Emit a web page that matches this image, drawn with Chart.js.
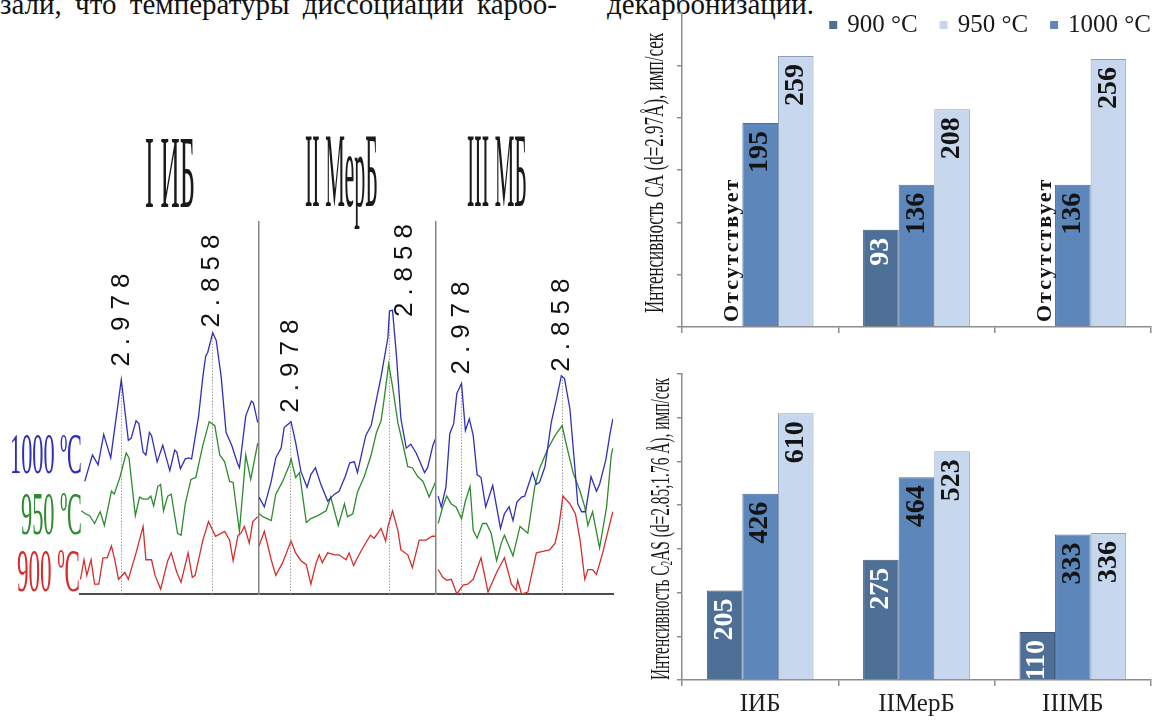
<!DOCTYPE html>
<html>
<head>
<meta charset="utf-8">
<script src="https://cdn.jsdelivr.net/npm/chart.js@4.4.1/dist/chart.umd.min.js"></script>
<style>
  html, body { margin: 0; padding: 0; background: #fff; }
  body { width: 1155px; height: 726px; position: relative; overflow: hidden;
         font-family: "Liberation Serif", "Times New Roman", serif; color: #111; }
  canvas { position: absolute; }
  .txt { position: absolute; white-space: nowrap; line-height: 1; }
  .cond { position: absolute; white-space: nowrap; line-height: 1; transform-origin: 0 0; }
  .cond sub { font-size: 0.6em; vertical-align: -0.15em; line-height: 0; }
</style>
</head>
<body>
<div class="txt" id="headLeft" style="left:0;top:-10px;width:557px;font-size:29px;text-align-last:justify;">зали, что температуры диссоциации карбо-</div>
<div class="txt" id="headRight" style="left:607px;top:-10px;font-size:29px;">декарбонизации.</div>

<canvas id="specI" width="198" height="490" style="left:70px;top:120px;"></canvas>
<canvas id="specII" width="197" height="490" style="left:249px;top:120px;"></canvas>
<canvas id="specIII" width="197" height="490" style="left:426px;top:120px;"></canvas>
<canvas id="barCA" width="535" height="345" style="left:620px;top:0px;"></canvas>
<canvas id="barC2AS" width="535" height="366" style="left:620px;top:360px;"></canvas>

<script>
// ---------- XRD fragments: 2θ (deg) vs intensity (a.u.), Cu Kα ----------
const wavelength = 1.5406;
const peakD = [2.978, 2.858];
const sampleTitles = ['I ИБ', 'II МерБ', 'III МБ'];
const tempLabels = ['1000 ºC', '950 ºC', '900 ºC'];

const scanI = [29.393, 31.924];
const scanII = [29.570, 31.890];
const scanIII = [29.663, 31.932];

const ib1000 = [[29.46,115],[29.57,142],[29.65,132],[29.73,163],[29.83,139],[29.98,219],[30.08,157],[30.12,159],[30.19,177],[30.23,174],[30.29,145],[30.33,142],[30.38,165],[30.41,162],[30.49,135],[30.57,152],[30.67,126],[30.74,147],[30.77,145],[30.82,128],[30.89,138],[30.94,139],[30.98,138],[31.08,182],[31.14,222],[31.18,243],[31.21,247],[31.28,267],[31.33,259],[31.40,222],[31.47,165],[31.55,152],[31.63,134],[31.66,129],[31.75,182],[31.83,197],[31.86,195],[31.92,175]];
const ib950 = [[29.41,85],[29.47,82],[29.53,80],[29.60,72],[29.68,84],[29.74,70],[29.84,105],[29.88,102],[29.96,119],[30.05,144],[30.09,139],[30.18,80],[30.24,99],[30.29,97],[30.36,97],[30.40,100],[30.44,90],[30.50,110],[30.54,112],[30.58,85],[30.64,100],[30.69,102],[30.78,62],[30.83,60],[30.89,92],[30.97,117],[31.04,119],[31.14,152],[31.23,176],[31.31,172],[31.38,142],[31.45,135],[31.52,115],[31.57,114],[31.66,64],[31.72,115],[31.75,142],[31.82,117],[31.92,154]];
const ib900 = [[29.40,15],[29.45,35],[29.49,19],[29.55,35],[29.60,10],[29.66,10],[29.72,37],[29.78,37],[29.84,49],[29.89,34],[29.94,15],[30.03,22],[30.08,15],[30.19,42],[30.29,69],[30.33,35],[30.41,35],[30.46,19],[30.54,5],[30.64,34],[30.69,42],[30.77,22],[30.83,12],[30.93,42],[30.99,17],[31.03,19],[31.14,55],[31.22,74],[31.32,59],[31.45,64],[31.52,55],[31.57,34],[31.64,60],[31.68,62],[31.73,69],[31.80,52],[31.85,74],[31.92,79]];

const merb1000 = [[29.57,99],[29.64,89],[29.73,115],[29.79,139],[29.86,149],[29.90,170],[29.99,176],[30.05,155],[30.12,125],[30.20,109],[30.25,122],[30.31,129],[30.38,112],[30.47,95],[30.56,102],[30.62,105],[30.70,120],[30.76,134],[30.82,135],[30.86,124],[30.97,162],[31.04,172],[31.17,222],[31.26,262],[31.28,289],[31.32,290],[31.37,245],[31.43,179],[31.50,149],[31.56,153],[31.63,144],[31.74,124],[31.78,129],[31.85,152],[31.89,160]];
const merb950 = [[29.57,82],[29.62,79],[29.73,75],[29.79,102],[29.88,115],[29.97,132],[29.99,138],[30.05,119],[30.10,124],[30.19,73],[30.25,77],[30.34,80],[30.45,85],[30.51,99],[30.61,70],[30.69,92],[30.73,79],[30.80,82],[30.86,104],[30.95,120],[31.04,142],[31.11,165],[31.17,177],[31.21,199],[31.27,235],[31.32,212],[31.39,175],[31.45,155],[31.52,130],[31.58,129],[31.65,120],[31.72,115],[31.80,99],[31.87,112],[31.89,115]];
const merb900 = [[29.57,49],[29.64,64],[29.73,35],[29.79,19],[29.88,32],[29.99,54],[30.05,42],[30.12,34],[30.19,30],[30.25,10],[30.32,32],[30.36,40],[30.40,32],[30.47,42],[30.56,40],[30.62,40],[30.71,35],[30.75,42],[30.81,29],[30.86,37],[30.93,47],[31.03,60],[31.08,57],[31.17,67],[31.23,54],[31.26,69],[31.32,85],[31.39,65],[31.43,45],[31.52,40],[31.58,27],[31.67,55],[31.76,55],[31.84,59],[31.89,59]];

const mb1000 = [[29.69,100],[29.73,89],[29.79,109],[29.84,164],[29.89,174],[29.93,205],[29.99,215],[30.04,167],[30.09,179],[30.14,162],[30.19,122],[30.24,119],[30.30,89],[30.39,111],[30.49,67],[30.54,82],[30.60,89],[30.65,75],[30.70,94],[30.76,99],[30.80,100],[30.90,124],[30.95,112],[30.99,114],[31.06,130],[31.14,175],[31.21,200],[31.27,223],[31.31,220],[31.38,189],[31.44,132],[31.48,92],[31.53,84],[31.58,84],[31.65,120],[31.72,105],[31.76,112],[31.84,137],[31.89,162],[31.93,179]];
const mb950 = [[29.69,72],[29.75,89],[29.80,100],[29.86,92],[29.92,89],[29.99,77],[30.04,95],[30.10,110],[30.14,65],[30.19,57],[30.26,72],[30.31,72],[30.37,62],[30.44,34],[30.50,52],[30.54,60],[30.65,39],[30.74,69],[30.84,62],[30.93,110],[30.99,128],[31.10,149],[31.19,162],[31.28,172],[31.33,154],[31.42,124],[31.51,105],[31.57,89],[31.61,70],[31.67,84],[31.76,47],[31.85,89],[31.91,142],[31.93,149]];
const mb900 = [[29.69,25],[29.75,17],[29.80,14],[29.86,15],[29.93,0],[30.01,9],[30.07,10],[30.14,15],[30.24,37],[30.33,2],[30.44,22],[30.54,37],[30.63,10],[30.69,4],[30.71,14],[30.76,0],[30.84,2],[30.95,42],[31.06,44],[31.12,45],[31.19,52],[31.24,70],[31.29,100],[31.38,92],[31.45,82],[31.51,55],[31.57,15],[31.61,25],[31.67,25],[31.72,20],[31.80,42],[31.87,65],[31.93,84]];

// ---------- phase intensities, imp/s ----------
const barCategories = ['IИБ', 'IIМерБ', 'IIIМБ'];
const seriesNames = ['900 °C', '950 °C', '1000 °C'];
const absentText = 'Отсутствует';
const caValues900 = [null, 93, null];
const caValues950 = [259, 208, 256];
const caValues1000 = [195, 136, 136];
const c2asValues900 = [205, 275, 110];
const c2asValues950 = [610, 523, 336];
const c2asValues1000 = [426, 464, 333];
const caAxis = { max: 300, step: 50 };
const c2asAxis = { max: 700, step: 100 };

// ---------- styling ----------
const traceColors = ['#2f2fb8', '#2e8b2e', '#d62d2d'];
const barFill = { t900: '#4f7096', t950: '#c7d8ee', t1000: '#5d87ba' };
const barEdge = { t900: '#3e5877', t950: '#8e9fb5', t1000: '#4a6f9c' };
const axisGrey = '#8c8c8c';

// Tall, narrow serif captions (condensed horizontally)
function placeCondensed(html, o) {
  const el = document.createElement('div');
  el.className = 'cond';
  el.innerHTML = html;
  const F = o.capH / 0.662;
  el.style.fontSize = F + 'px';
  el.style.color = o.color || '#1a1a1a';
  document.body.appendChild(el);
  const natural = el.getBoundingClientRect().width;
  const sx = o.length / natural;
  if (o.rotate) {
    el.style.left = o.cx + 'px';
    el.style.top = o.cy + 'px';
    el.style.transform = `rotate(-90deg) scaleX(${sx}) translate(-50%, -50%)`;
  } else {
    el.style.left = o.x + 'px';
    el.style.top = (o.capTop - 0.1755 * F) + 'px';
    el.style.transform = `scaleX(${sx})`;
  }
}

placeCondensed(sampleTitles[0], { x: 145, capTop: 138, capH: 69, length: 50 });
placeCondensed(sampleTitles[1], { x: 305, capTop: 137, capH: 70, length: 73 });
placeCondensed(sampleTitles[2], { x: 467, capTop: 137, capH: 70, length: 60 });
placeCondensed(tempLabels[0], { x: 10, capTop: 435, capH: 38, length: 72, color: traceColors[0] });
placeCondensed(tempLabels[1], { x: 21, capTop: 495, capH: 40, length: 61, color: traceColors[1] });
placeCondensed(tempLabels[2], { x: 17, capTop: 552, capH: 40, length: 63, color: traceColors[2] });
placeCondensed('Интенсивность СА (d=2.97Å), имп/сек', { rotate: true, cx: 655, cy: 173, capH: 18, length: 280 });
placeCondensed('Интенсивность C<sub>2</sub>AS (d=2.85;1.76 Å), имп/сек', { rotate: true, cx: 661, cy: 529, capH: 18, length: 302 });

// Dotted d-spacing markers with rotated labels above the 1000 °C peaks
const peakMarks = {
  id: 'peakMarks',
  _pos(chart, d) {
    const tt = 2 * Math.asin(wavelength / (2 * d)) * 180 / Math.PI;
    const ref = chart.data.datasets[0].data;
    let best = ref[0];
    ref.forEach(p => { if (Math.abs(p.x - tt) < Math.abs(best.x - tt)) best = p; });
    return { px: chart.scales.x.getPixelForValue(tt), py: chart.scales.y.getPixelForValue(best.y) };
  },
  beforeDatasetsDraw(chart) {
    const { ctx, chartArea } = chart;
    ctx.save();
    ctx.strokeStyle = '#a0a0a0';
    ctx.lineWidth = 1;
    ctx.setLineDash([1.5, 1.5]);
    peakD.forEach(d => {
      const { px, py } = this._pos(chart, d);
      const xx = Math.round(px) + 0.5;
      ctx.beginPath();
      ctx.moveTo(xx, chartArea.bottom);
      ctx.lineTo(xx, py);
      ctx.stroke();
    });
    ctx.restore();
  },
  afterDatasetsDraw(chart, args, opts) {
    const { ctx } = chart;
    peakD.forEach((d, k) => {
      const { px, py } = this._pos(chart, d);
      const off = opts.offsets[k];
      ctx.save();
      ctx.translate(px + off.dx, py - off.gap);
      ctx.rotate(-Math.PI / 2);
      ctx.font = '26px "Liberation Sans", Arial, sans-serif';
      ctx.letterSpacing = '7px';
      ctx.fillStyle = '#111';
      ctx.textAlign = 'left';
      ctx.textBaseline = 'middle';
      ctx.fillText(d.toFixed(3), 0, 0);
      ctx.restore();
    });
  }
};

function spectrum(id, scan, traces, offsets, leftBorder) {
  new Chart(document.getElementById(id), {
    type: 'line',
    data: {
      datasets: traces.map((t, i) => ({
        label: tempLabels[i],
        data: t.map(([x, y]) => ({ x, y })),
        borderColor: traceColors[i],
        borderWidth: 1.3,
        pointRadius: 0,
        tension: 0,
        fill: false
      }))
    },
    options: {
      responsive: false,
      animation: false,
      events: [],
      layout: { padding: { left: 10, right: 10, top: 102, bottom: 8 } },
      plugins: { legend: { display: false }, tooltip: { enabled: false }, peakMarks: { offsets } },
      scales: {
        x: {
          type: 'linear', min: scan[0], max: scan[1],
          ticks: { display: false }, grid: { display: false },
          border: { display: true, color: '#4d4d4d', width: 2 }
        },
        y: {
          min: 0, max: 380, display: leftBorder,
          ticks: { display: false }, grid: { display: false },
          border: { display: true, color: '#858585', width: 1.5 },
          afterFit(scale) { scale.width = 0; }
        }
      }
    },
    plugins: [peakMarks]
  });
}

spectrum('specI', scanI, [ib1000, ib950, ib900], [{ dx: 0, gap: 13 }, { dx: 0, gap: 5 }], false);
spectrum('specII', scanII, [merb1000, merb950, merb900], [{ dx: 0, gap: 9 }, { dx: 16, gap: -6 }], true);
spectrum('specIII', scanIII, [mb1000, mb950, mb900], [{ dx: 1, gap: 9 }, { dx: 0, gap: 4 }], true);

// Rotated values inside bar tops, and a note where a phase is absent
const barValueLabels = {
  id: 'barValueLabels',
  afterDatasetsDraw(chart) {
    const { ctx, chartArea } = chart;
    chart.data.datasets.forEach((ds, i) => {
      const meta = chart.getDatasetMeta(i);
      meta.data.forEach((bar, j) => {
        const v = ds.data[j];
        ctx.save();
        if (v == null) {
          ctx.translate(bar.x + 8, chartArea.bottom - 5);
          ctx.rotate(-Math.PI / 2);
          ctx.font = 'bold 22px "Liberation Serif", serif';
          ctx.letterSpacing = '2px';
          ctx.fillStyle = '#151515';
          ctx.textAlign = 'left';
          ctx.textBaseline = 'middle';
          ctx.fillText(absentText, 0, 0);
        } else {
          ctx.translate(bar.x, bar.y + 8);
          ctx.rotate(-Math.PI / 2);
          ctx.font = 'bold 28px "Liberation Serif", serif';
          ctx.fillStyle = ds.valueColor;
          ctx.textAlign = 'right';
          ctx.textBaseline = 'middle';
          ctx.fillText(String(v), 0, 0);
        }
        ctx.restore();
      });
    });
  }
};

// Series key drawn at the top-right corner of the plot
const cornerLegend = {
  id: 'cornerLegend',
  afterDraw(chart, args, opts) {
    if (!opts.show) return;
    const { ctx, chartArea } = chart;
    ctx.save();
    ctx.font = '25px "Liberation Serif", serif';
    const box = 8, gapText = 10, gapItem = 22;
    const items = chart.data.datasets.map(ds => ({ text: ds.label, color: ds.backgroundColor, w: ctx.measureText(ds.label).width }));
    const total = items.reduce((s, it, k) => s + box + gapText + it.w + (k ? gapItem : 0), 0);
    let x = chartArea.right - total;
    items.forEach(it => {
      ctx.fillStyle = it.color;
      ctx.fillRect(x, opts.y - box / 2, box, box);
      x += box + gapText;
      ctx.fillStyle = '#1a1a1a';
      ctx.textAlign = 'left';
      ctx.textBaseline = 'middle';
      ctx.fillText(it.text, x, opts.y);
      x += it.w + gapItem;
    });
    ctx.restore();
  }
};

function barChart(id, v900, v950, v1000, axis, opts) {
  new Chart(document.getElementById(id), {
    type: 'bar',
    data: {
      labels: barCategories,
      datasets: [
        { label: seriesNames[0], data: v900, backgroundColor: barFill.t900, borderColor: barEdge.t900, borderWidth: 1, order: 0, valueColor: '#ffffff' },
        { label: seriesNames[1], data: v950, backgroundColor: barFill.t950, borderColor: barEdge.t950, borderWidth: 1, order: 2, valueColor: '#141414' },
        { label: seriesNames[2], data: v1000, backgroundColor: barFill.t1000, borderColor: barEdge.t1000, borderWidth: 1, order: 1, valueColor: '#141414' }
      ]
    },
    options: {
      responsive: false,
      animation: false,
      events: [],
      datasets: { bar: { categoryPercentage: 0.683, barPercentage: 1 } },
      layout: { padding: opts.padding },
      plugins: {
        legend: { display: false }, tooltip: { enabled: false },
        cornerLegend: { show: opts.legend, y: 25 }
      },
      scales: {
        x: {
          grid: { offset: true, drawOnChartArea: false, drawTicks: true, tickLength: 6, color: axisGrey, lineWidth: 1.5 },
          border: { color: axisGrey, width: 1.5 },
          ticks: { display: opts.categoryLabels, color: '#1e1e1e', padding: 6,
                   font: { family: '"Liberation Serif", serif', size: 25, lineHeight: 1 } }
        },
        y: {
          min: 0, max: axis.max,
          ticks: { stepSize: axis.step, display: false },
          grid: { drawOnChartArea: false, drawTicks: true, tickLength: 5, color: axisGrey, lineWidth: 1.5 },
          border: { color: axisGrey, width: 1.5 }
        }
      }
    },
    plugins: [barValueLabels, cornerLegend]
  });
}

barChart('barCA', caValues900, caValues950, caValues1000, caAxis,
  { padding: { left: 57, right: 4, top: 13, bottom: 12 }, legend: true, categoryLabels: false });
barChart('barC2AS', c2asValues900, c2asValues950, c2asValues1000, c2asAxis,
  { padding: { left: 57, right: 4, top: 14, bottom: 3 }, legend: false, categoryLabels: true });
</script>
</body>
</html>
